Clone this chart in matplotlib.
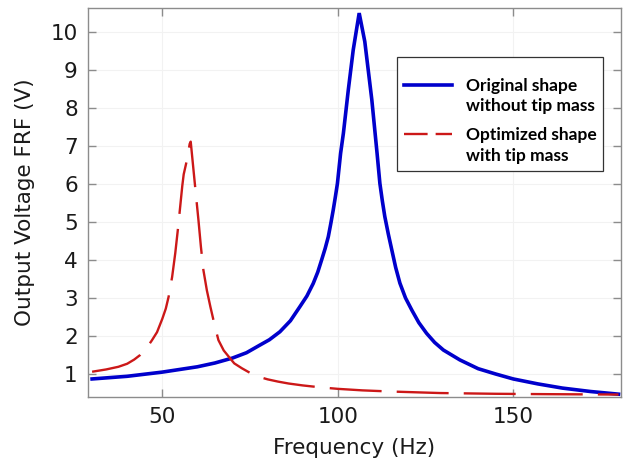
import numpy as np
import matplotlib
matplotlib.use("Agg")
import matplotlib.pyplot as plt
from matplotlib.legend_handler import HandlerLine2D

# blue curve: original shape without tip mass
freq_orig = [30, 40, 50, 60, 65, 70, 74, 77.8, 80.5, 83.5, 86.5, 89.2, 91.2, 93.0,
             94.3, 95.4, 96.4, 97.3, 98.0, 98.7, 99.3, 99.9, 100.8, 101.6, 103.0,
             104.4, 106.1, 107.7, 109.7, 111.2, 112.0, 112.7, 113.4, 114.4, 115.4,
             116.5, 117.7, 119.3, 121.1, 123.1, 125.3, 127.6, 130.1, 134.8, 140,
             145, 150, 157, 164, 172, 180]
volt_orig = [0.87, 0.94, 1.05, 1.19, 1.29, 1.42, 1.56, 1.76, 1.90, 2.11, 2.40,
             2.77, 3.05, 3.38, 3.68, 4.00, 4.30, 4.61, 4.95, 5.31, 5.65, 6.01,
             6.80, 7.33, 8.47, 9.52, 10.49, 9.74, 8.21, 6.80, 6.01, 5.55, 5.14,
             4.68, 4.26, 3.80, 3.39, 3.00, 2.68, 2.35, 2.07, 1.83, 1.63, 1.37,
             1.14, 1.00, 0.87, 0.74, 0.63, 0.54, 0.47]

# red curve: optimized shape with tip mass
freq_opt = [30, 34, 37.5, 40, 42, 43.7, 45.5, 47, 48.5, 50, 51, 51.8, 52.8, 53.7,
            54.5, 55.1, 55.7, 56.1, 57.2, 57.8, 58.1, 58.8, 59.6, 60.3, 61, 61.7,
            62.7, 63.7, 65, 66, 67.5, 68.9, 70.5, 72.7, 75, 77.4, 80, 83, 86, 90,
            95, 100, 107, 115, 129, 145, 160, 180]
volt_opt = [1.06, 1.12, 1.19, 1.27, 1.38, 1.50, 1.68, 1.88, 2.10, 2.45, 2.72,
            3.03, 3.55, 4.18, 4.85, 5.40, 5.95, 6.25, 6.70, 7.05, 7.11, 6.45,
            5.70, 5.05, 4.35, 3.74, 3.20, 2.77, 2.25, 1.89, 1.62, 1.46, 1.28,
            1.15, 1.03, 0.93, 0.86, 0.80, 0.75, 0.70, 0.65, 0.61, 0.57, 0.54,
            0.50, 0.48, 0.47, 0.46]


# legend line sits on the first text row, like the original figure
class TopLine(HandlerLine2D):
    def create_artists(self, legend, orig_handle, xdescent, ydescent, width,
                       height, fontsize, trans):
        arts = super().create_artists(legend, orig_handle, xdescent, ydescent,
                                      width, height, fontsize, trans)
        for a in arts:
            a.set_ydata(np.asarray(a.get_ydata()) + 8.5)
            if orig_handle.get_linestyle() != '-':
                a.set_dashes([10, 3.4])
        return arts


fig = plt.figure(figsize=(6.23, 4.63), dpi=100)
ax = fig.add_axes([0.1405, 0.1425, 0.8563, 0.8395])

blue, = ax.plot(freq_orig, volt_orig, color='#0000CC', lw=2.6,
                solid_joinstyle='miter', label='Original shape\nwithout tip mass')
red, = ax.plot(freq_opt, volt_opt, color='#CC1818', lw=1.7,
               label='Optimized shape\nwith tip mass')
red.set_dashes([22, 6.4])

ax.set_xlim(28.7, 180.7)
ax.set_ylim(0.395, 10.615)
ax.set_xticks([50, 100, 150])
ax.set_yticks(range(1, 11))

ax.grid(True, color='#f2f2f2', lw=0.8)
ax.set_axisbelow(True)
for s in ax.spines.values():
    s.set_color('#8c8c8c')
    s.set_linewidth(1.0)
ax.tick_params(direction='in', length=6, width=1, color='#8c8c8c',
               top=True, right=True, labelsize=15.5, pad=7, labelcolor='#1a1a1a')

ax.set_xlabel('Frequency (Hz)', fontsize=15.5, color='#1a1a1a', labelpad=8)
ax.set_ylabel('Output Voltage FRF (V)', fontsize=15.5, color='#1a1a1a', labelpad=11)

# tiny blank title gives the extra top padding of the original legend box
leg = ax.legend(loc='upper left', bbox_to_anchor=(0.58, 0.875),
                prop={'family': 'Lato', 'weight': 'bold', 'size': 12.5},
                title=' ', title_fontsize=1,
                handlelength=2.75, handletextpad=0.8, labelspacing=0.75,
                borderpad=0.4, borderaxespad=0, fancybox=False, framealpha=1,
                handler_map={blue: TopLine(), red: TopLine()})
leg.get_frame().set_edgecolor('#333333')
leg.get_frame().set_linewidth(0.9)
for t in leg.get_texts():
    t.set_linespacing(1.35)

fig.savefig('out.png', dpi=100)
